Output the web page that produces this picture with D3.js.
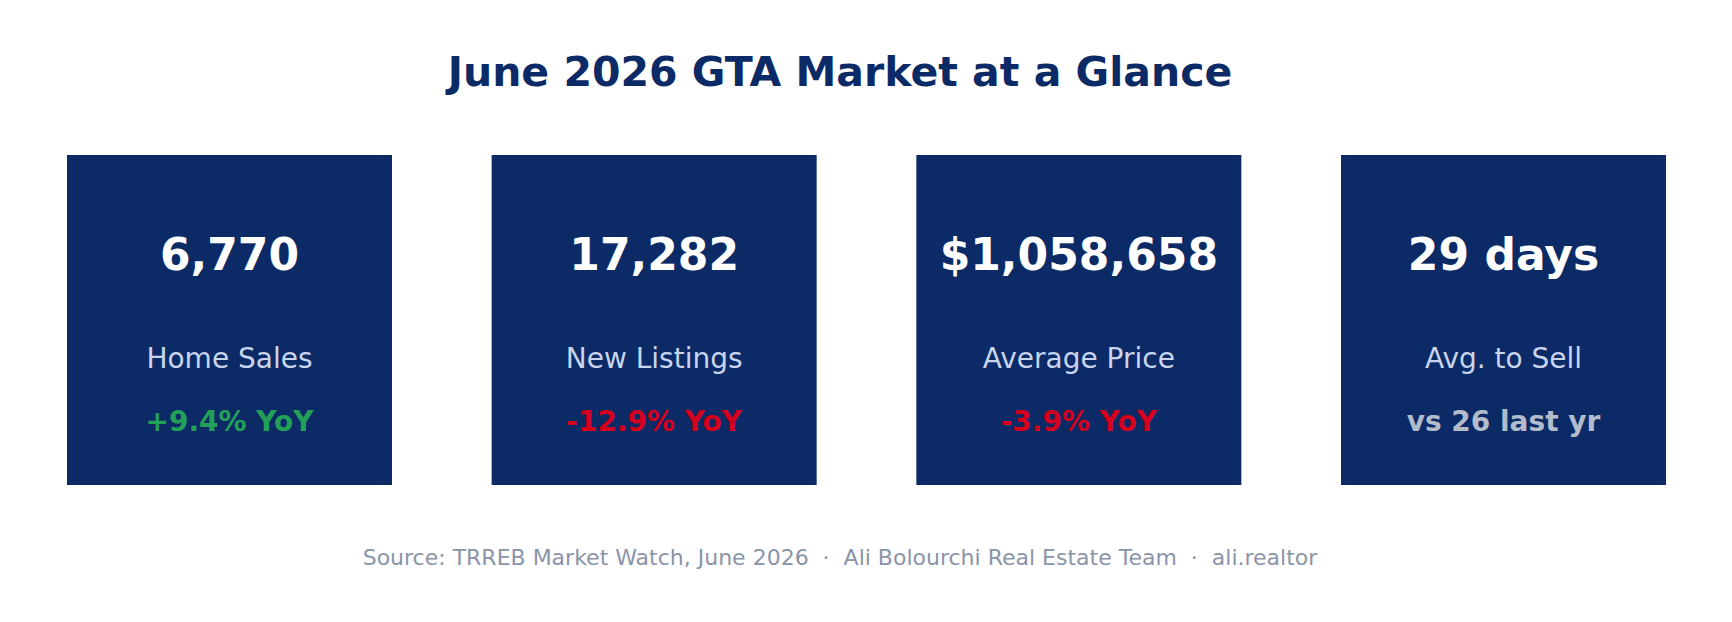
<!DOCTYPE html>
<html><head><meta charset="utf-8">
<script src="https://cdn.jsdelivr.net/npm/d3@7"></script>
<style>body{margin:0;background:#fff}svg{display:block}text{font-family:"DejaVu Sans",sans-serif}</style>
</head><body><svg id="c" width="1732" height="622"></svg>
<script>
const titleText = "June 2026 GTA Market at a Glance";
const values = ["6,770", "17,282", "$1,058,658", "29 days"];
const labels = ["Home Sales", "New Listings", "Average Price", "Avg. to Sell"];
const changes = ["+9.4% YoY", "-12.9% YoY", "-3.9% YoY", "vs 26 last yr"];
const changeKinds = ["up", "down", "down", "neutral"];
const footnote = "Source: TRREB Market Watch, June 2026  ·  Ali Bolourchi Real Estate Team  ·  ali.realtor";

const colorOf = {up:"#23a058", down:"#d6001c", neutral:"#b3bccb"};
const svg = d3.select("#c");
const x = d3.scaleBand().domain(d3.range(values.length)).range([67,1666]).paddingInner(0.2347).paddingOuter(0);
const y = d3.scaleLinear().domain([0,1]).range([485,155]);

svg.append("text").attr("x",840).attr("y",86).attr("text-anchor","middle")
  .attr("font-size",41).attr("font-weight","bold").attr("fill","#0b2a66").text(titleText);

const g = svg.selectAll("g.card").data(values).join("g").attr("class","card");
g.append("rect").attr("x",(d,i)=>x(i)).attr("y",y(1)).attr("width",x.bandwidth()).attr("height",y(0)-y(1)).attr("fill","#0b2a66");
g.append("text").attr("x",(d,i)=>x(i)+x.bandwidth()/2).attr("y",270).attr("text-anchor","middle")
  .attr("font-size",44).attr("font-weight","bold").attr("fill","#ffffff").text(d=>d);
g.append("text").attr("x",(d,i)=>x(i)+x.bandwidth()/2).attr("y",368).attr("text-anchor","middle")
  .attr("font-size",28).attr("fill","#c9d5ee").text((d,i)=>labels[i]);
g.append("text").attr("x",(d,i)=>x(i)+x.bandwidth()/2).attr("y",431).attr("text-anchor","middle")
  .attr("font-size",28).attr("font-weight","bold").attr("fill",(d,i)=>colorOf[changeKinds[i]]).text((d,i)=>changes[i]);

svg.append("text").attr("x",840).attr("y",565).attr("text-anchor","middle")
  .attr("font-size",22).attr("fill","#8a94a9").attr("xml:space","preserve").style("white-space","pre").text(footnote);
</script></body></html>
